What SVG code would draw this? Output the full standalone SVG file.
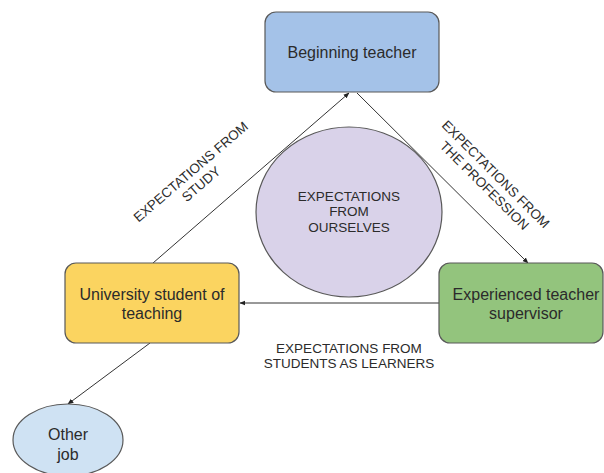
<svg xmlns="http://www.w3.org/2000/svg" width="604" height="473" viewBox="0 0 604 473">
<defs>
<style>
.box{stroke:#595959;stroke-width:1.2}
.t{font-family:"Liberation Sans",Arial,sans-serif;font-size:16px;fill:#2b2b2b;text-anchor:middle;dominant-baseline:central}
.l{font-family:"Liberation Sans",Arial,sans-serif;font-size:13.5px;fill:#2b2b2b;text-anchor:middle;dominant-baseline:central}
.c{stroke:#333;stroke-width:1;fill:none;marker-end:url(#ah)}
</style>
<marker id="ah" viewBox="0 0 10 10" refX="9" refY="5" markerWidth="6" markerHeight="6" orient="auto" markerUnits="userSpaceOnUse">
<path d="M0,1 L10,5 L0,9 z" fill="#222"/>
</marker>
</defs>
<rect width="604" height="473" fill="#fff"/>
<g id="connectors">
<line class="c" x1="153" y1="263" x2="349" y2="93"/>
<line class="c" x1="357" y1="93" x2="528" y2="263"/>
<line class="c" x1="439" y1="303" x2="240" y2="303"/>
<line class="c" x1="150" y1="343" x2="68" y2="404"/>
</g>
<g id="ourselves">
<ellipse cx="349" cy="212" rx="93" ry="85" fill="#d9d2e9" class="box"/>
<text class="l" x="349" y="196">EXPECTATIONS</text>
<text class="l" x="349" y="211.5">FROM</text>
<text class="l" x="349" y="227">OURSELVES</text>
</g>
<g id="beginning">
<rect x="265" y="12" width="174" height="80" rx="11" fill="#a4c2e8" class="box"/>
<text class="t" x="352" y="52">Beginning teacher</text>
</g>
<g id="university">
<rect x="65" y="263" width="174" height="80" rx="11" fill="#fbd460" class="box"/>
<text class="t" x="152" y="294">University student of</text>
<text class="t" x="152" y="313">teaching</text>
</g>
<g id="experienced">
<rect x="439" y="263" width="164" height="80" rx="11" fill="#93c47d" class="box"/>
<text class="t" x="526" y="294">Experienced teacher</text>
<text class="t" x="526" y="313">supervisor</text>
</g>
<g id="otherjob">
<ellipse cx="68" cy="440" rx="55" ry="36" fill="#cfe2f3" class="box"/>
<text class="t" x="68" y="434">Other</text>
<text class="t" x="68" y="454">job</text>
</g>
<g id="labels">
<g transform="translate(196,178) rotate(-40.6)">
<text class="l" x="0" y="-8">EXPECTATIONS FROM</text>
<text class="l" x="0" y="8">STUDY</text>
</g>
<g transform="translate(490,180) rotate(45)">
<text class="l" x="0" y="-8">EXPECTATIONS FROM</text>
<text class="l" x="0" y="8">THE PROFESSION</text>
</g>
<text class="l" x="349" y="348">EXPECTATIONS FROM</text>
<text class="l" x="349" y="363">STUDENTS AS LEARNERS</text>
</g>
</svg>
